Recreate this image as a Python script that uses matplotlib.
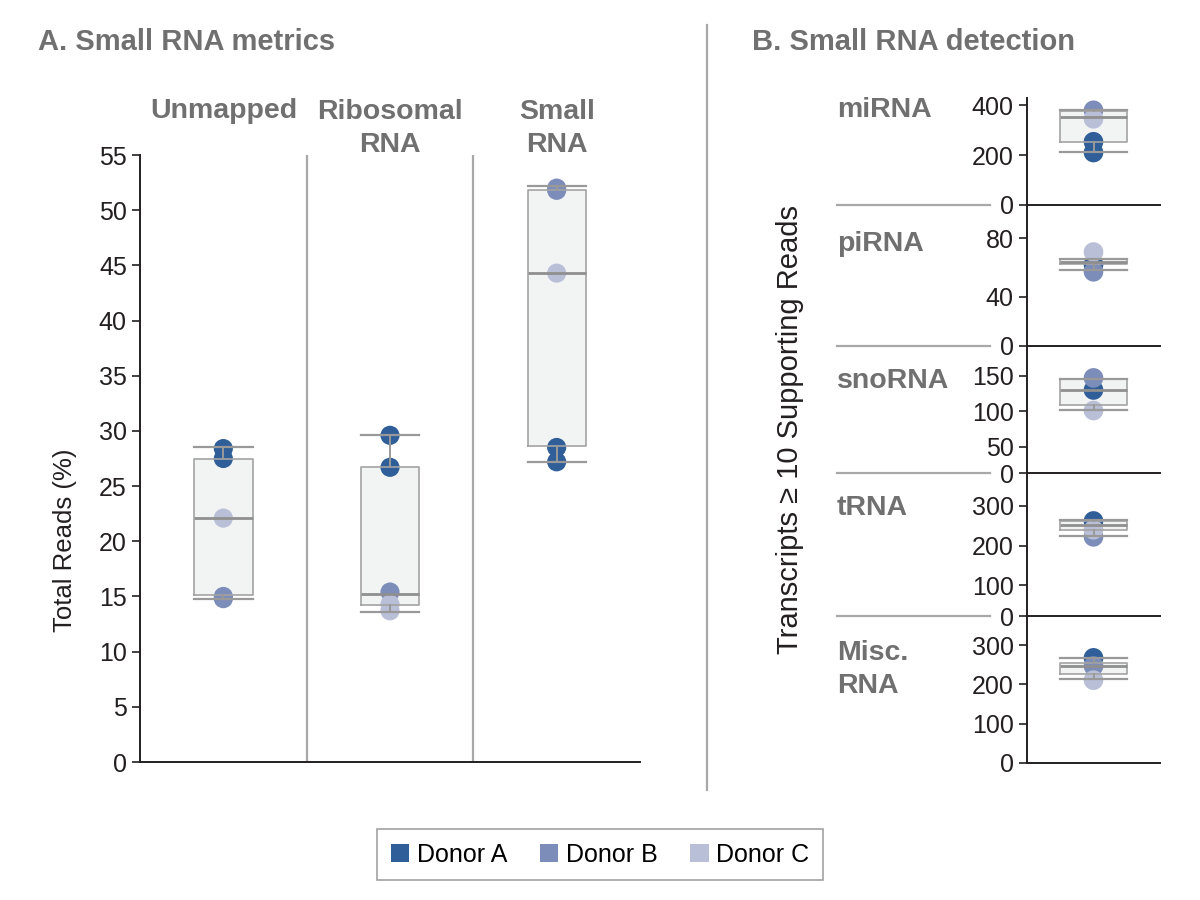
import matplotlib
matplotlib.use("Agg")
import matplotlib.pyplot as plt
from matplotlib.patches import Patch

plt.rcParams['font.family'] = ['Liberation Sans', 'DejaVu Sans']

# --- datos panel A: porcentaje de lecturas ---
categorias_a = ['Unmapped', 'Ribosomal\nRNA', 'Small\nRNA']
# estadisticos de caja: minimo, Q1, mediana, Q3, maximo
caja_min_a = [14.8, 13.6, 27.2]
caja_q1_a = [15.1, 14.2, 28.6]
caja_med_a = [22.1, 15.2, 44.3]
caja_q3_a = [27.5, 26.7, 51.8]
caja_max_a = [28.5, 29.6, 52.2]
# puntos por donante
donor_a_pct = [[28.4, 27.5], [29.6, 26.7], [28.5, 27.2]]
donor_b_pct = [[15.0, 14.8], [15.4], [52.0, 51.8]]
donor_c_pct = [[22.1], [14.3, 13.7], [44.3]]

# --- datos panel B: transcritos con >= 10 lecturas ---
categorias_b = ['miRNA', 'piRNA', 'snoRNA', 'tRNA', 'Misc.\nRNA']
caja_min_b = [213, 58, 102, 223, 213]
caja_q1_b = [253, 62.5, 109, 240, 226]
caja_med_b = [351, 64, 130, 253, 247]
caja_q3_b = [378, 65.5, 145, 262, 254]
caja_max_b = [380, 66, 146, 264, 268]
donor_a_b = [[253, 210], [62], [130], [262], [268]]
donor_b_b = [[379], [57], [147], [222], [247]]
donor_c_b = [[345], [70.5], [101], [240], [211]]
# rango del eje y (el inferior se rotula como 0) y ticks
ylim_bajo_b = [0, 6.2, 12.5, 22.7, 0]
ylim_alto_b = [427, 102.7, 192, 382, 375]
ticks_b = [[200, 400], [40, 80], [50, 100, 150], [100, 200, 300], [100, 200, 300]]

donantes = ['Donor A', 'Donor B', 'Donor C']
colores = ['#2f5e98', '#7d8dba', '#b8bfd7']

gris_titulo = '#707070'
gris_linea = '#a8a8a8'
relleno_caja = '#f2f3f3'
tinta = '#231f20'
paso_linea = 34  # px entre lineas de las etiquetas


def stats(lo, q1, med, q3, hi):
    return [dict(whislo=a, q1=b, med=c, q3=d, whishi=e, fliers=[])
            for a, b, c, d, e in zip(lo, q1, med, q3, hi)]


def dibujar_cajas(ax, st, pos, ancho, puntos, tam):
    # relleno de las cajas
    ax.bxp(st, positions=pos, widths=ancho, capwidths=ancho, patch_artist=True,
           showfliers=False, zorder=1,
           boxprops=dict(facecolor=relleno_caja, edgecolor='none'),
           medianprops=dict(lw=0), whiskerprops=dict(lw=0), capprops=dict(lw=0))
    # puntos de cada donante
    for serie, color in zip(puntos, colores):
        for p, vals in zip(pos, serie):
            ax.scatter([p] * len(vals), vals, s=tam, color=color, zorder=2,
                       edgecolors='none')
    # lineas de la caja por encima de los puntos
    ax.bxp(st, positions=pos, widths=ancho, capwidths=ancho, showfliers=False,
           zorder=3,
           boxprops=dict(color='#a3a3a3', lw=1.2),
           medianprops=dict(color='#8f8f8f', lw=2.0),
           whiskerprops=dict(color='#999999', lw=1.4),
           capprops=dict(color='#999999', lw=1.6))


def estilo_ejes(ax):
    for s in ['top', 'right']:
        ax.spines[s].set_visible(False)
    for s in ['left', 'bottom']:
        ax.spines[s].set_color(tinta)
        ax.spines[s].set_linewidth(1.4)
    ax.tick_params(axis='y', labelsize=18, colors=tinta, length=6, width=1.2)
    ax.tick_params(axis='x', bottom=False, labelbottom=False)


def etiqueta(x_px, base_px, texto, **kw):
    # base_px es la linea base de la primera linea
    n = texto.count('\n')
    fig.text(x_px / 1200, 1 - (base_px + n * paso_linea) / 900, texto, va='baseline',
             fontsize=20.5, fontweight='bold', color=gris_titulo, linespacing=1.36, **kw)


fig = plt.figure(figsize=(12, 9), dpi=100)

# ---------------- Panel A ----------------
axa = fig.add_axes([140 / 1200, 1 - 762 / 900, 500 / 1200, 607 / 900])
pos_a = [1, 2, 3]
dibujar_cajas(axa, stats(caja_min_a, caja_q1_a, caja_med_a, caja_q3_a, caja_max_a),
              pos_a, 0.35, [donor_a_pct, donor_b_pct, donor_c_pct], 190)
axa.set_xlim(0.5, 3.5)
axa.set_ylim(0, 55)
axa.set_yticks(range(0, 56, 5))
estilo_ejes(axa)
for x in [1.5, 2.5]:
    axa.axvline(x, color=gris_linea, lw=1.6, zorder=0)
for p, nombre in zip(pos_a, categorias_a):
    x_px = 140 + (p - 0.5) / 3 * 500
    etiqueta(x_px, 118, nombre, ha='center', multialignment='center')
fig.text(65 / 1200, 1 - 540 / 900, 'Total Reads (%)', rotation=90, ha='center',
         va='center', fontsize=18.5, color=tinta)

# ---------------- Panel B ----------------
limites_b = [(98.3, 205), (205, 346), (346, 473.3), (473.3, 616), (616, 762.7)]
base_etiqueta = [117, 251, 388, 515, 659]
for i, nombre in enumerate(categorias_b):
    arriba, abajo = limites_b[i]
    ax = fig.add_axes([1027 / 1200, 1 - abajo / 900, 133 / 1200, (abajo - arriba) / 900])
    dibujar_cajas(ax, stats([caja_min_b[i]], [caja_q1_b[i]], [caja_med_b[i]],
                            [caja_q3_b[i]], [caja_max_b[i]]),
                  [1], 0.51, [[donor_a_b[i]], [donor_b_b[i]], [donor_c_b[i]]], 200)
    ax.set_xlim(0.5, 1.5)
    ax.set_ylim(ylim_bajo_b[i], ylim_alto_b[i])
    ax.set_yticks([ylim_bajo_b[i]] + ticks_b[i])
    ax.set_yticklabels(['0'] + [str(t) for t in ticks_b[i]])
    estilo_ejes(ax)
    ax.patch.set_alpha(0)
    etiqueta(837, base_etiqueta[i], nombre, ha='left')
    if i < len(categorias_b) - 1:
        # separador gris a la izquierda, a la altura del eje x
        ax.plot([-1.43, -0.28], [0, 0], transform=ax.transAxes, color=gris_linea,
                lw=1.6, clip_on=False)

fig.text(790 / 1200, 1 - 430 / 900, 'Transcripts \u2265 10 Supporting Reads',
         rotation=90, ha='center', va='center', fontsize=21, color=tinta)

# ---------------- titulos y separador ----------------
fig.text(38 / 1200, 1 - 50 / 900, 'A. Small RNA metrics', ha='left', va='baseline',
         fontsize=21, fontweight='bold', color=gris_titulo)
fig.text(752 / 1200, 1 - 50 / 900, 'B. Small RNA detection', ha='left', va='baseline',
         fontsize=21, fontweight='bold', color=gris_titulo)
fig.add_artist(plt.Line2D([707 / 1200, 707 / 1200], [1 - 790 / 900, 1 - 25 / 900],
                          color=gris_linea, lw=1.6))

# ---------------- leyenda ----------------
manejadores = [Patch(facecolor=c, edgecolor='none', label=d) for c, d in zip(colores, donantes)]
leg = fig.legend(handles=manejadores, loc='center', bbox_to_anchor=(0.5, 1 - 854.5 / 900),
                 ncol=3, fontsize=18, frameon=True, fancybox=False, handlelength=0.75,
                 handleheight=0.75, handletextpad=0.3, columnspacing=1.3,
                 borderpad=0.55, edgecolor='#8a8a8a')
leg.get_frame().set_linewidth(1.2)

fig.savefig('out.png', dpi=100)
